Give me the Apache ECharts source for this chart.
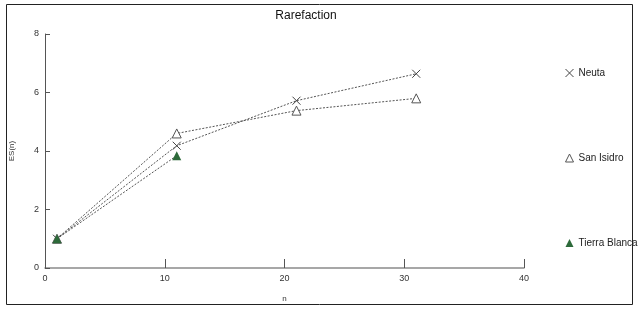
<!DOCTYPE html>
<html><head><meta charset="utf-8">
<script src="https://cdn.jsdelivr.net/npm/echarts@6/dist/echarts.min.js"></script>
<style>html,body{margin:0;padding:0;background:#fff}#c{width:641px;height:313px}</style>
</head><body><div id="c"></div>
<script>
const sampleN = [1, 11, 21, 31];
const neuta = [1, 4.18, 5.72, 6.64];
const sanIsidro = [1, 4.6, 5.38, 5.8];
const tierraBlanca = [1, 3.84];
const xTicks = [0, 10, 20, 30, 40];
const yTicks = [0, 2, 4, 6, 8];
const seriesNames = ['Neuta', 'San Isidro', 'Tierra Blanca'];

const crossPath = 'path://M0,0L10,10M10,0L0,10';
const pairs = vals => vals.map((v, i) => [sampleN[i], v]);
const font = 'Liberation Sans, Arial, sans-serif';

const chart = echarts.init(document.getElementById('c'));
const lineStyle = {color: '#555', width: 1, type: [2, 1.5]};
chart.setOption({
  animation: false,
  backgroundColor: '#fff',
  title: {text: 'Rarefaction', left: 301, top: 5, textAlign: 'center',
    textStyle: {fontFamily: font, fontSize: 12, fontWeight: 'normal', color: '#111'}},
  graphic: [{type: 'rect', shape: {x: 6.5, y: 4.5, width: 626, height: 300},
    style: {fill: 'none', stroke: '#222', lineWidth: 1}, silent: true}],
  grid: {left: 43, right: 117, top: 34, bottom: 45},
  legend: {
    orient: 'vertical', left: 560, top: 63, itemGap: 75, itemWidth: 8, itemHeight: 8,
    textStyle: {fontFamily: font, fontSize: 10, color: '#222'},
    data: [
      {name: seriesNames[0], icon: crossPath, itemStyle: {color: 'rgba(0,0,0,0)', borderColor: '#444', borderWidth: 1}},
      {name: seriesNames[1], icon: 'triangle', itemStyle: {color: '#fff', borderColor: '#555', borderWidth: 1}},
      {name: seriesNames[2], icon: 'triangle', itemStyle: {color: '#2d6a3a', borderColor: '#2d6a3a', borderWidth: 0}}
    ]
  },
  xAxis: {
    type: 'value', min: xTicks[0], max: xTicks[xTicks.length - 1], interval: 10,
    name: 'n', nameLocation: 'middle', nameGap: 27,
    nameTextStyle: {fontFamily: font, fontSize: 8, color: '#333'},
    axisLine: {lineStyle: {color: '#8a8a8a', width: 1.5}},
    axisTick: {inside: true, length: 9, lineStyle: {color: '#555'}},
    axisLabel: {fontFamily: font, fontSize: 9, color: '#333', margin: 6},
    splitLine: {show: false}
  },
  yAxis: {
    type: 'value', min: yTicks[0], max: yTicks[yTicks.length - 1], interval: 2,
    name: 'ES(n)', nameLocation: 'middle', nameGap: 29, nameRotate: 90,
    nameTextStyle: {fontFamily: font, fontSize: 8, color: '#333'},
    axisLine: {lineStyle: {color: '#555', width: 1}},
    axisTick: {inside: true, length: 5, lineStyle: {color: '#555'}},
    axisLabel: {fontFamily: font, fontSize: 9, color: '#333', margin: 6},
    splitLine: {show: false}
  },
  series: [
    {name: seriesNames[0], type: 'line', data: pairs(neuta), symbol: crossPath, symbolSize: 8,
      itemStyle: {color: 'rgba(0,0,0,0)', borderColor: '#444', borderWidth: 1}, lineStyle, z: 3},
    {name: seriesNames[1], type: 'line', data: pairs(sanIsidro), symbol: 'triangle', symbolSize: 9,
      itemStyle: {color: '#fff', borderColor: '#555', borderWidth: 1}, lineStyle, z: 2},
    {name: seriesNames[2], type: 'line', data: pairs(tierraBlanca), symbol: 'triangle', symbolSize: 9,
      itemStyle: {color: '#2d6a3a', borderColor: '#2d6a3a', borderWidth: 0}, lineStyle, z: 4}
  ]
});
</script></body></html>
